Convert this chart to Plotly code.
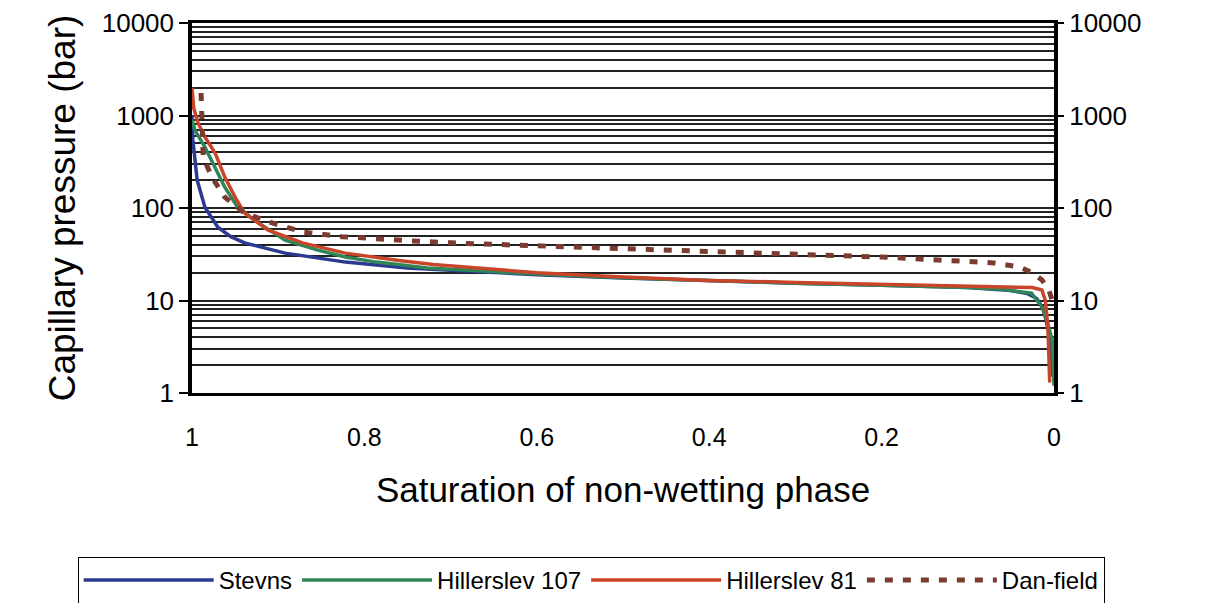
import plotly.graph_objects as go

# Saturation of non-wetting phase (x) and capillary pressure in bar (y)
stevns_x = [1.0, 0.999, 0.994, 0.985, 0.970, 0.955, 0.939, 0.892, 0.822,
            0.75, 0.7, 0.6, 0.5, 0.4, 0.3, 0.2, 0.1, 0.05, 0.03, 0.02, 0.012, 0.006, 0.002]
stevns_y = [1000, 545, 200, 102, 62, 49, 42, 32.5, 26,
            22.5, 21.2, 19, 17.5, 16.3, 15.4, 14.6, 13.8, 12.8, 11.8, 10.5, 8, 4.5, 1.5]

h107_x = [1.0, 0.9965, 0.985, 0.973, 0.962, 0.947, 0.923, 0.892, 0.854, 0.822, 0.786, 0.727,
          0.65, 0.6, 0.5, 0.4, 0.3, 0.2, 0.1, 0.06, 0.04, 0.026, 0.014, 0.008, 0.002, 0.0]
h107_y = [900, 690, 455, 277, 168, 102, 69, 45, 35, 29.5, 26, 22.5,
          20.5, 19.3, 17.6, 16.3, 15.4, 14.6, 13.8, 13.2, 12.6, 12, 8.5, 6, 3.7, 1.2]

h81_x = [1.0, 0.998, 0.993, 0.985, 0.973, 0.962, 0.950, 0.939, 0.912, 0.872, 0.822, 0.76,
         0.72, 0.65, 0.6, 0.5, 0.4, 0.3, 0.2, 0.1, 0.05, 0.025, 0.014, 0.01, 0.007, 0.005]
h81_y = [2000, 1200, 830, 585, 390, 216, 131, 88, 58, 42, 32.5, 27,
         24.5, 21.5, 20, 18, 16.5, 15.7, 15, 14.5, 14.2, 13.8, 13, 10, 5, 1.3]

dan_x = [0.9895, 0.989, 0.987, 0.977, 0.962, 0.939, 0.907, 0.872, 0.826, 0.743, 0.7,
         0.6, 0.5, 0.4, 0.3, 0.2, 0.12, 0.07, 0.04, 0.025, 0.014, 0.006, 0.002]
dan_y = [1750, 890, 355, 216, 131, 88, 69, 55, 49, 44, 42,
         39, 36.5, 34.5, 32, 29.5, 27, 25.5, 23, 20, 16.7, 13, 10]

x_ticks = [1, 0.8, 0.6, 0.4, 0.2, 0]
x_tick_text = ["1", "0.8", "0.6", "0.4", "0.2", "0"]
y_ticks = [1, 10, 100, 1000, 10000]
y_tick_text = ["1", "10", "100", "1000", "10000"]

FONT = "Liberation Sans, Arial, sans-serif"

fig = go.Figure()
fig.add_trace(go.Scatter(x=stevns_x, y=stevns_y, mode="lines", name="Stevns",
                         line=dict(color="#2b3990", width=3.5)))
fig.add_trace(go.Scatter(x=h107_x, y=h107_y, mode="lines", name="Hillerslev 107",
                         line=dict(color="#2e8656", width=3.5)))
fig.add_trace(go.Scatter(x=h81_x, y=h81_y, mode="lines", name="Hillerslev 81",
                         line=dict(color="#c8452a", width=3.5)))
fig.add_trace(go.Scatter(x=dan_x, y=dan_y, mode="lines", name="Dan-field",
                         line=dict(color="#7b3b30", width=5, dash="8px,10px")))
# invisible helper so the mirrored right-hand axis is drawn
fig.add_trace(go.Scatter(x=[0.5], y=[10], yaxis="y2", mode="markers",
                         marker=dict(opacity=0), showlegend=False, hoverinfo="skip"))

fig.update_layout(
    width=1232, height=603,
    margin=dict(l=192, r=178, t=23, b=210, autoexpand=False),
    paper_bgcolor="white", plot_bgcolor="white",
    font=dict(family=FONT, color="black", size=24),
    showlegend=True,
    legend=dict(orientation="h", x=-0.1326, xanchor="left", y=-0.443, yanchor="top",
                bordercolor="black", borderwidth=1, font=dict(size=24),
                itemwidth=130, tracegroupgap=0),
    xaxis=dict(range=[1, 0], tickvals=x_ticks, ticktext=x_tick_text,
               showgrid=False, zeroline=False, showline=True, linecolor="black",
               linewidth=3, mirror=True, ticks="", ticklabelstandoff=20,
               tickfont=dict(size=25),
               title=dict(text="Saturation of non-wetting phase", font=dict(size=35),
                          standoff=28)),
    yaxis=dict(type="log", range=[0, 4], tickvals=y_ticks, ticktext=y_tick_text,
               showgrid=True, gridcolor="#222", gridwidth=1.5,
               minor=dict(dtick="D1", showgrid=True, gridcolor="#222", gridwidth=1.5, ticks=""),
               zeroline=False, showline=True, linecolor="black", linewidth=3.5, mirror=True,
               ticks="outside", ticklen=9, tickwidth=1.5, tickcolor="black",
               tickfont=dict(size=26),
               title=dict(text="Capillary pressure (bar)", font=dict(size=37), standoff=16)),
    yaxis2=dict(type="log", range=[0, 4], tickvals=y_ticks, ticktext=y_tick_text,
                overlaying="y", side="right", showgrid=False, zeroline=False,
                showline=False, ticks="outside", ticklen=9, tickwidth=1.5, tickcolor="black",
                tickfont=dict(size=26)),
)

fig.write_html("out.html")
